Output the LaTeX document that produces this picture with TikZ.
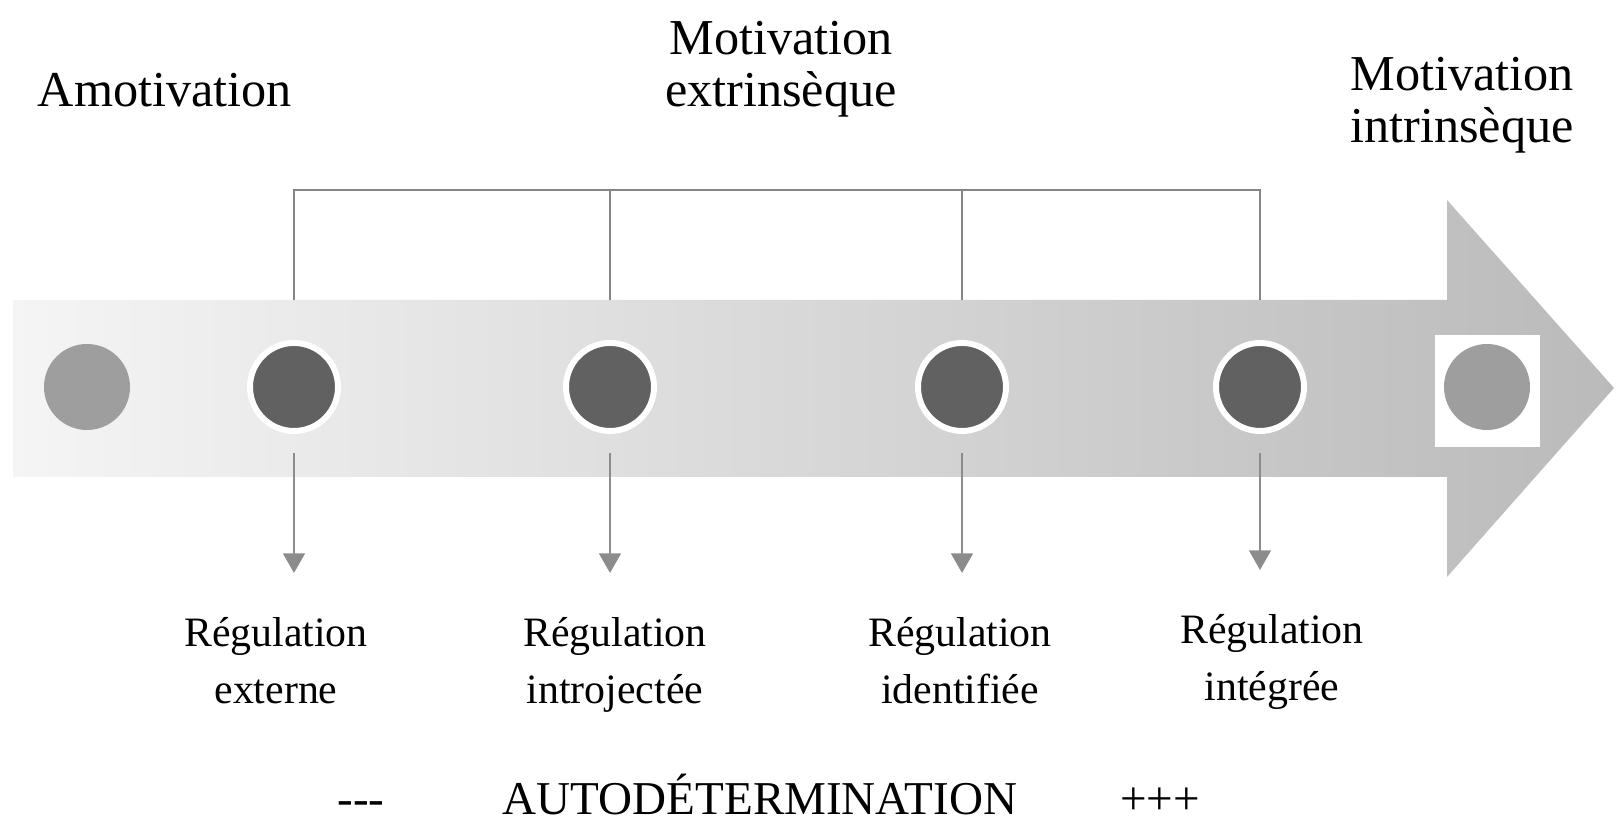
\documentclass[tikz,border=0pt]{standalone}
\usepackage{fontspec}
\setmainfont{Liberation Serif}
\usetikzlibrary{arrows.meta}

\tikzset{
  dot/.style={circle, fill=black!62, draw=white, line width=1.7pt, minimum size=0.88cm, inner sep=0pt},
  pale/.style={circle, fill=black!38, minimum size=0.86cm, inner sep=0pt},
  link/.style={draw=black!48, line width=0.7pt},
  down/.style={link, -{Triangle[width=6.2pt,length=5.6pt]}, draw=black!45, fill=black!42},
  lbl/.style={font=\fontsize{11.9}{16.2}\selectfont, align=center, anchor=north, inner sep=0pt},
  head/.style={font=\fontsize{14.3}{14.8}\selectfont, align=center, inner sep=0pt},
  foot/.style={font=\fontsize{13.4}{14}\selectfont, anchor=base, inner sep=0pt},
}

\begin{document}
\begin{tikzpicture}
			\useasboundingbox (0,0) rectangle (16.16,8.24);

			\shade[left color=black!4, right color=black!27]
				(0.13,5.24) -- (14.47,5.24) -- (14.47,6.24) -- (16.14,4.36)
				-- (14.47,2.47) -- (14.47,3.47) -- (0.13,3.47) -- cycle;

			\node[pale] (amot) at (0.87, 4.37) {};
			\node[dot] (ext) at (2.94, 4.37) {};
			\node[dot] (intro) at (6.10, 4.37) {};
			\node[dot] (ident) at (9.62, 4.37) {};
			\node[dot] (integ) at (12.60, 4.37) {};
			\fill[white] (14.35,3.77) rectangle (15.40,4.89);
			\node[pale] (intr) at (14.87, 4.37) {};

			\node[head, anchor=base] (amotlbl) at (1.65, 7.17) {Amotivation};
			\node[head, anchor=north] (extrlbl) at (7.81, 8.03) {Motivation\\extrinsèque};
			\node[head, anchor=north] (intrlbl) at (14.62, 7.67) {Motivation\\intrinsèque};

			\coordinate (bar) at (0, 6.34);
			\draw[link] ([yshift=0.87cm]ext.center) -- (ext |- bar) -- (integ |- bar) -- ([yshift=0.87cm]integ.center);
			\foreach \n in {intro, ident}
				\draw[link] ([yshift=0.87cm]\n.center) -- (\n |- bar);

			\node[lbl] (extlbl) at (2.76, 2.07) {Régulation\\externe};
			\node[lbl] (introlbl) at (6.15, 2.07) {Régulation\\introjectée};
			\node[lbl] (identlbl) at (9.60, 2.07) {Régulation\\identifiée};
			\node[lbl] (integlbl) at (12.72, 2.10) {Régulation\\intégrée};

			\foreach \n in {ext, intro, ident, integ}
				\draw[down, shorten >=0.44cm] ([yshift=-0.66cm]\n.center) -- (\n |- \n lbl.north);

			\node[foot] (less) at (3.61, 0.09) {\mbox{-}\mbox{-}\mbox{-}};
			\node[foot] (auto) at (7.60, 0.09) {AUTODÉTERMINATION};
			\node[foot] (more) at (11.60, 0.09) {+++};
		\end{tikzpicture}
\end{document}
